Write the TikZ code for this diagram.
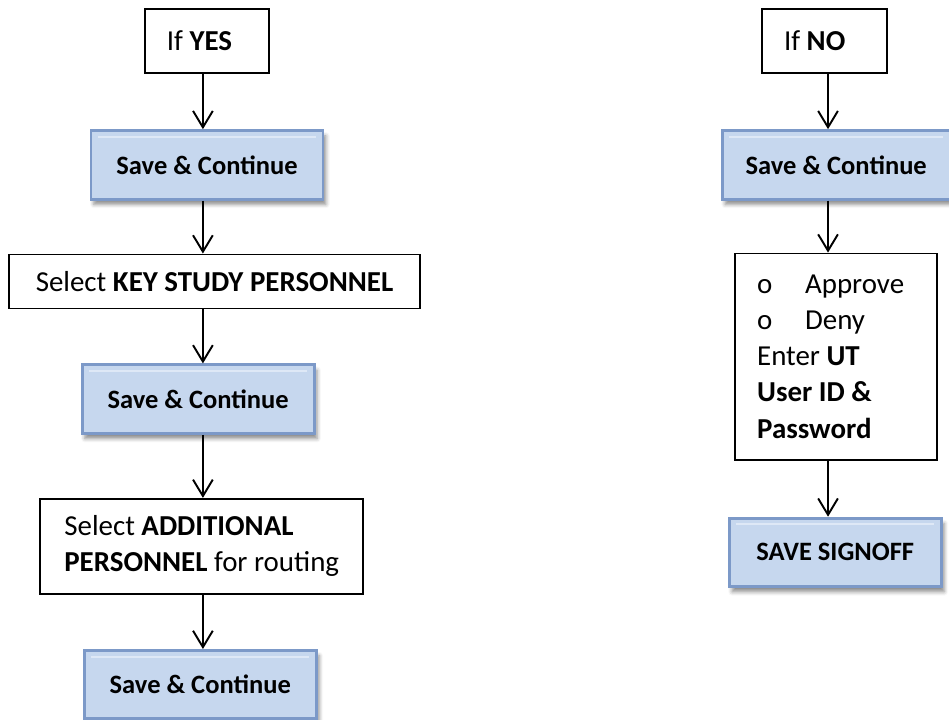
\documentclass[tikz,border=0pt]{standalone}
\usepackage{fontspec}
\setmainfont{Carlito}
\usepackage{tikz}
\usetikzlibrary{arrows.meta, positioning, shadows.blur}
\usepackage{xcolor}
\definecolor{ButtonFill}{RGB}{198, 215, 238}
\definecolor{ButtonEdge}{RGB}{124, 153, 200}
\definecolor{ButtonLite}{RGB}{222, 232, 246}
\definecolor{InkBlack}{RGB}{0, 0, 0}
\tikzset{%
  flow_box/.style={%
    rectangle,%
    draw=InkBlack,%
    line width=0.8pt,%
    inner xsep=9.1pt,%
    inner ysep=0pt,%
    align=flush left,%
    font={\fontsize{12}{15}\selectfont},%
  },
  flow_button/.style={%
    rectangle,%
    draw=ButtonEdge,%
    fill=ButtonFill,%
    line width=1.2pt,%
    minimum width=96.3pt,%
    minimum height=28.4pt,%
    align=center,%
    font={\fontsize{11}{13}\selectfont\bfseries},%
    blur shadow={shadow xshift=1.2pt, shadow yshift=-2.2pt,%
      shadow blur radius=1.6pt, shadow opacity=45},%
    path picture={%
      \draw [ButtonLite, line width=0.9pt]
        ([xshift=3pt, yshift=-2.6pt]path picture bounding box.north west)
        --
        ([xshift=-3pt, yshift=-2.6pt]path picture bounding box.north east);
    },%
  },
  flow_path/.style={%
    color=InkBlack,%
    line width=0.8pt,%
    line join=miter,%
  },
  arrow/.style={-{Straight Barb[length=6.8pt, width=8.2pt]}},
}

\begin{document}
\begin{tikzpicture}
  \useasboundingbox (0, 0) rectangle (393.8pt, -298.4pt);

  % left branch
  \coordinate (ColL) at (84.2pt, 0);
  \node [flow_box, text width=33.3pt, minimum height=26.6pt] (IfYes)
    at (85.9pt, -17.0pt) {If \textbf{YES}};
  \node [flow_button, below = 22.9pt of IfYes] (Save1) {Save \& Continue};
  \node [flow_box, minimum width=170.6pt, minimum height=22.4pt,
    below = 22.0pt of Save1, xshift=3.1pt] (KeyPersonnel)
    {Select \textbf{KEY STUDY PERSONNEL}};
  \node [flow_button, below = 22.4pt of KeyPersonnel, xshift=-6.8pt] (Save2)
    {Save \& Continue};
  \node [flow_box, minimum width=134pt, minimum height=39.4pt,
    below = 26.2pt of Save2, xshift=1.5pt] (AddPersonnel)
    {Select \textbf{ADDITIONAL}\\\textbf{PERSONNEL} for routing};
  \node [flow_button, below = 22.5pt of AddPersonnel, xshift=-0.6pt] (Save3)
    {Save \& Continue};

  % right branch
  \coordinate (ColR) at (343.6pt, 0);
  \node [flow_box, text width=33.7pt, minimum height=26.6pt] (IfNo)
    at (342.2pt, -17.0pt) {If \textbf{NO}};
  \node [flow_button, minimum width=94.6pt, below = 22.9pt of IfNo,
    xshift=4.8pt] (SaveR) {Save \& Continue};
  \node [flow_box, text width=65.6pt, minimum height=85.5pt,
    below = 21.6pt of SaveR] (Approve)
    {\makebox[19.9pt][l]{o}Approve\\
     \makebox[19.9pt][l]{o}Deny\\
     Enter \textbf{UT}\\
     \textbf{User ID \&}\\
     \textbf{Password}};
  \node [flow_button, minimum width=88pt, below = 23.3pt of Approve,
    xshift=-0.4pt] (Signoff) {SAVE SIGNOFF};

  \draw [arrow, flow_path]
    (IfYes.south -| ColL) -- (Save1.north -| ColL);
  \draw [arrow, flow_path]
    (Save1.south -| ColL) -- (KeyPersonnel.north -| ColL);
  \draw [arrow, flow_path]
    (KeyPersonnel.south -| ColL) -- (Save2.north -| ColL);
  \draw [arrow, flow_path]
    (Save2.south -| ColL) -- (AddPersonnel.north -| ColL);
  \draw [arrow, flow_path]
    (AddPersonnel.south -| ColL) -- (Save3.north -| ColL);

  \draw [arrow, flow_path]
    (IfNo.south -| ColR) -- (SaveR.north -| ColR);
  \draw [arrow, flow_path]
    (SaveR.south -| ColR) -- (Approve.north -| ColR);
  \draw [arrow, flow_path]
    (Approve.south -| ColR) -- (Signoff.north -| ColR);
\end{tikzpicture}
\end{document}
